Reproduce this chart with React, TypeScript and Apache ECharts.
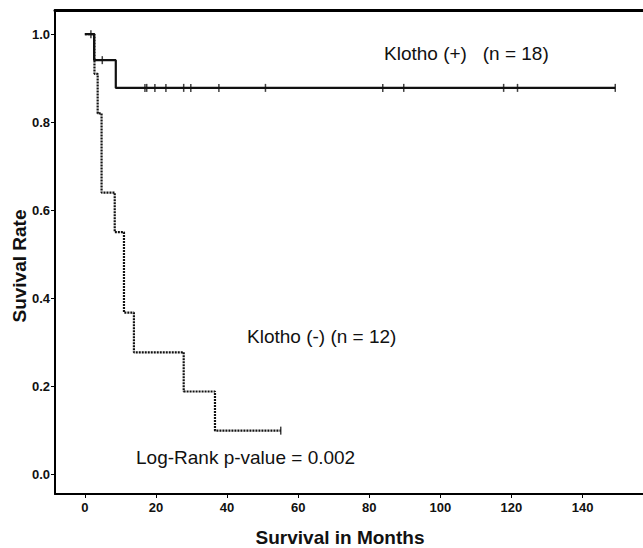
import React, { useEffect, useRef } from "react";
import * as echarts from "echarts";

// Kaplan-Meier step data
const plusTimes = [0, 2.6, 8.7, 149.2];
const plusSurv = [1.0, 0.941, 0.878, 0.878];
const plusCensorTimes = [1.7, 4.9, 16.9, 17.4, 19.7, 22.8, 27.8, 29.8, 37.7, 50.8, 83.8, 89.7, 117.8, 121.7, 149.2];

const minusTimes = [0, 2.7, 3.6, 4.7, 8.4, 11.0, 13.8, 27.8, 36.6, 55.1];
const minusSurv = [1.0, 0.91, 0.82, 0.64, 0.55, 0.367, 0.277, 0.188, 0.099, 0.099];
const minusCensorTimes = [55.1];

const xTicks = [0, 20, 40, 60, 80, 100, 120, 140];
const yTicks = [0, 0.2, 0.4, 0.6, 0.8, 1.0];

const plusLabel = "Klotho (+)   (n = 18)";
const minusLabel = "Klotho (-) (n = 12)";
const pLabel = "Log-Rank p-value = 0.002";
const xName = "Survival in Months";
const yName = "Suvival Rate";

function survAt(times: number[], surv: number[], t: number): number {
  let s = surv[0];
  for (let i = 0; i < times.length; i++) {
    if (times[i] <= t) s = surv[i];
  }
  return s;
}

export default function App() {
  const ref = useRef<HTMLDivElement>(null);
  useEffect(() => {
    if (!ref.current) return;
    const chart = echarts.init(ref.current, null, { renderer: "svg" });
    const tickFont = {
      fontFamily: "'Liberation Sans Narrow', 'Liberation Sans', Arial, sans-serif",
      fontWeight: "bold" as const,
      fontSize: 13,
      color: "#111",
    };
    const annoFont = "'Liberation Sans', Arial, sans-serif";
    chart.setOption({
      animation: false,
      backgroundColor: "#fff",
      grid: { left: 55, right: 0, top: 10, bottom: 54, containLabel: false },
      xAxis: [
        {
          type: "value",
          min: -8.4,
          max: 157,
          splitLine: { show: false },
          axisLine: { show: true, onZero: false, lineStyle: { color: "#000", width: 2 } },
          axisTick: { show: true, length: 4, customValues: xTicks, lineStyle: { color: "#000", width: 1 } },
          axisLabel: { ...tickFont, margin: 7, customValues: xTicks, formatter: (v: number) => String(v) },
        },
        {
          type: "value",
          position: "top",
          min: -8.4,
          max: 157,
          splitLine: { show: false },
          axisLine: { show: true, onZero: false, lineStyle: { color: "#000", width: 3 } },
          axisTick: { show: false },
          axisLabel: { show: false },
        },
      ],
      yAxis: {
        type: "value",
        min: -0.045,
        max: 1.055,
        splitLine: { show: false },
        axisLine: { show: true, onZero: false, lineStyle: { color: "#000", width: 2 } },
        axisTick: { show: true, length: 4, customValues: yTicks, lineStyle: { color: "#000", width: 1 } },
        axisLabel: { ...tickFont, margin: 5, customValues: yTicks, formatter: (v: number) => v.toFixed(1) },
      },
      series: [
        {
          type: "line",
          step: "end",
          symbol: "none",
          data: minusTimes.map((t, i) => [t, minusSurv[i]]),
          lineStyle: { color: "#111", width: 2.2, type: [2, 1] },
          z: 2,
        },
        {
          type: "scatter",
          symbol: "rect",
          symbolSize: [1.5, 8],
          data: minusCensorTimes.map((t) => [t, survAt(minusTimes, minusSurv, t)]),
          itemStyle: { color: "#111" },
          z: 3,
        },
        {
          type: "line",
          step: "end",
          symbol: "none",
          data: plusTimes.map((t, i) => [t, plusSurv[i]]),
          lineStyle: { color: "#111", width: 2.2 },
          z: 4,
        },
        {
          type: "scatter",
          symbol: "rect",
          symbolSize: [1.5, 8],
          data: plusCensorTimes.map((t) => [t, survAt(plusTimes, plusSurv, t)]),
          itemStyle: { color: "#111" },
          z: 5,
        },
      ],
      graphic: [
        {
          type: "text",
          x: 384,
          y: 53,
          style: { text: plusLabel, font: `19px ${annoFont}`, fill: "#111", textVerticalAlign: "middle" },
        },
        {
          type: "text",
          x: 247,
          y: 336,
          style: { text: minusLabel, font: `19px ${annoFont}`, fill: "#111", textVerticalAlign: "middle" },
        },
        {
          type: "text",
          x: 136,
          y: 457,
          style: { text: pLabel, font: `19px ${annoFont}`, fill: "#111", textVerticalAlign: "middle" },
        },
        {
          type: "text",
          x: 340,
          y: 537,
          style: { text: xName, font: `bold 19px ${annoFont}`, fill: "#111", textAlign: "center", textVerticalAlign: "middle" },
        },
        {
          type: "text",
          x: 19,
          y: 266,
          rotation: Math.PI / 2,
          style: { text: yName, font: `bold 19px ${annoFont}`, fill: "#111", textAlign: "center", textVerticalAlign: "middle" },
        },
      ],
    });
    return () => chart.dispose();
  }, []);
  return (
    <div
      ref={ref}
      style={{ position: "absolute", left: 0, top: 0, width: 643, height: 548, background: "#fff" }}
    />
  );
}
